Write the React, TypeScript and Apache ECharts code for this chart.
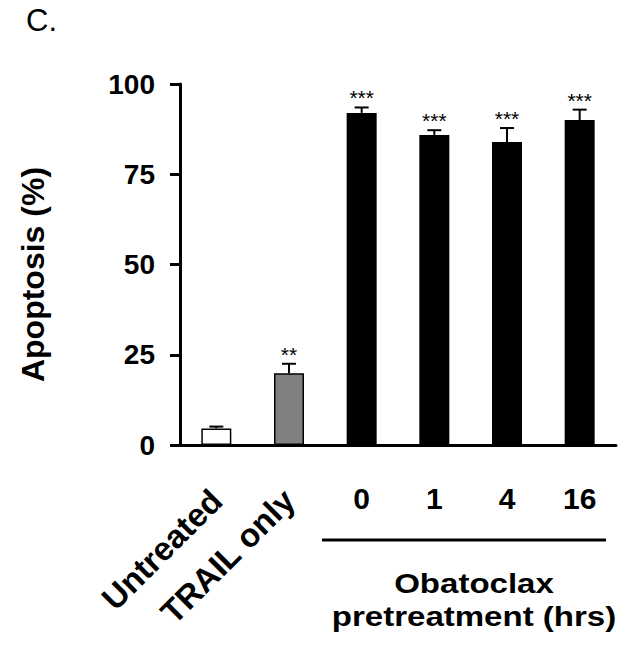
import React, { useEffect, useRef } from "react";
import * as echarts from "echarts";

const categories = ["Untreated", "TRAIL only", "0", "1", "4", "16"];
const rotatedCount = 2; // first categories drawn rotated
const apoptosis = [4.6, 19.9, 92.0, 85.9, 83.9, 90.0];
const errors = [0.5, 2.6, 1.5, 1.3, 3.9, 2.9];
const significance = ["", "**", "***", "***", "***", "***"];
const barColors = ["#ffffff", "#808080", "#000000", "#000000", "#000000", "#000000"];
const yMin = 0;
const yMax = 100;
const yInterval = 25;
const groupTitle = "Obatoclax\npretreatment (hrs)";
const yTitle = "Apoptosis (%)";
const panelLabel = "C.";

const FONT = "'Liberation Sans', Arial, Helvetica, sans-serif";

export default function App() {
  const ref = useRef<HTMLDivElement>(null);
  useEffect(() => {
    if (!ref.current) return;
    const chart = echarts.init(ref.current, null, { renderer: "svg" });
    const option: any = {
      animation: false,
      backgroundColor: "#ffffff",
      grid: { left: 180, right: 14, top: 84, bottom: 214, containLabel: false },
      xAxis: [
        {
          type: "category",
          data: categories,
          position: "bottom",
          axisLine: { show: true, lineStyle: { color: "#000", width: 3 } },
          axisTick: { show: false },
          axisLabel: {
            interval: 0,
            rotate: 45,
            margin: 50,
            color: "#000",
            fontFamily: FONT,
            fontWeight: "bold",
            fontSize: 33,
            hideOverlap: false,
            formatter: (v: string, i: number) => (i < rotatedCount ? v : ""),
          },
        },
        {
          type: "category",
          data: categories,
          position: "bottom",
          axisLine: { show: false },
          axisTick: { show: false },
          axisLabel: {
            interval: 0,
            margin: 38,
            color: "#000",
            fontFamily: FONT,
            fontWeight: "bold",
            fontSize: 30,
            formatter: (v: string, i: number) => (i >= rotatedCount ? v : ""),
          },
        },
      ],
      yAxis: {
        type: "value",
        min: yMin,
        max: yMax,
        interval: yInterval,
        name: yTitle,
        nameLocation: "middle",
        nameRotate: 90,
        nameGap: 131,
        nameTextStyle: {
          color: "#000",
          fontFamily: FONT,
          fontWeight: "bold",
          fontSize: 32,
          padding: [0, 20, 0, 0],
        },
        axisLine: { show: true, lineStyle: { color: "#000", width: 3 } },
        axisTick: { show: true, length: 10, lineStyle: { color: "#000", width: 3 } },
        splitLine: { show: false },
        axisLabel: {
          margin: 25,
          color: "#000",
          fontFamily: FONT,
          fontWeight: "bold",
          fontSize: 28,
        },
      },
      graphic: [
        {
          type: "text",
          left: 26,
          top: 5,
          style: { text: panelLabel, fill: "#000", font: `31px ${FONT}` },
        },
        {
          type: "line",
          shape: { x1: 322, y1: 540, x2: 606, y2: 540 },
          style: { stroke: "#000", lineWidth: 3 },
        },
        {
          type: "text",
          x: 474,
          y: 599,
          scaleX: 1.18,
          style: {
            text: groupTitle,
            fill: "#000",
            font: `bold 28px ${FONT}`,
            align: "center",
            verticalAlign: "middle",
            lineHeight: 33,
          },
        },
      ],
      series: [
        {
          type: "bar",
          xAxisIndex: 0,
          barWidth: 30,
          data: apoptosis.map((v, i) => ({
            value: v,
            itemStyle: { color: barColors[i], borderColor: "#000", borderWidth: 1.5 },
          })),
          z: 2,
        },
        {
          type: "custom",
          xAxisIndex: 0,
          z: 3,
          data: apoptosis.map((v, i) => [i, v, errors[i]]),
          renderItem: (params: any, api: any) => {
            const x = api.value(0);
            const y = api.value(1);
            const e = api.value(2);
            const p0 = api.coord([x, y]);
            const p1 = api.coord([x, y + e]);
            const half = 7;
            const children: any[] = [
              {
                type: "line",
                shape: { x1: p0[0], y1: p0[1], x2: p1[0], y2: p1[1] },
                style: { stroke: "#000", lineWidth: 2 },
              },
              {
                type: "line",
                shape: { x1: p1[0] - half, y1: p1[1], x2: p1[0] + half, y2: p1[1] },
                style: { stroke: "#000", lineWidth: 2 },
              },
            ];
            const s = significance[params.dataIndex];
            if (s) {
              children.push({
                type: "text",
                x: p1[0],
                y: p1[1] + 1,
                style: {
                  text: s,
                  fill: "#000",
                  font: `21px ${FONT}`,
                  align: "center",
                  verticalAlign: "bottom",
                },
              });
            }
            return { type: "group", children };
          },
        },
      ],
    };
    chart.setOption(option);
    return () => chart.dispose();
  }, []);
  return (
    <div
      ref={ref}
      style={{ position: "absolute", left: 0, top: 0, width: 630, height: 659 }}
    />
  );
}
